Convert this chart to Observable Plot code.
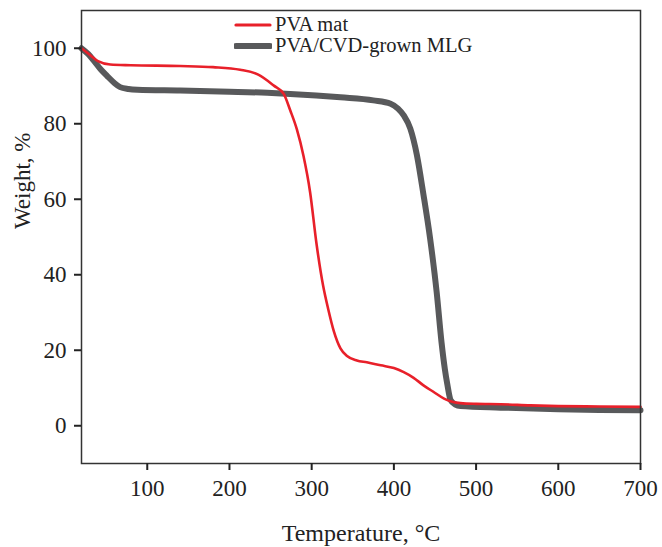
<!DOCTYPE html>
<html>
<head>
<meta charset="utf-8">
<script src="https://cdn.jsdelivr.net/npm/d3@7"></script>
<script src="https://cdn.jsdelivr.net/npm/@observablehq/plot@0.6"></script>
<style>
  html, body { margin: 0; padding: 0; background: #fff; }
  #wrap { position: relative; width: 662px; height: 547px; font-family: "Liberation Serif", "DejaVu Serif", serif; }
  #legend { position: absolute; left: 234px; top: 14px; font-size: 20.5px; color: #222; line-height: 21px; }
  #legend .row { display: flex; align-items: center; height: 21px; white-space: nowrap; }
  #legend svg { margin-right: 3px; }
</style>
</head>
<body>
<div id="wrap"><div id="chart"></div><div id="legend"></div></div>
<script>
// Temperature (°C) and weight (%)
const pvaTemp   = [20, 30, 40, 55, 80, 140, 180, 213, 235, 254, 266, 274, 282, 290, 298, 306, 314, 320, 327, 335, 343, 355, 367, 384, 400, 412, 424, 436, 448, 461, 472, 481, 500, 530, 566, 600, 650, 700];
const pvaWeight = [100, 98.3, 96.6, 95.7, 95.5, 95.3, 95.0, 94.3, 93.0, 90.1, 87.9, 83.5, 78.5, 71.5, 62, 48, 37, 31, 25, 20.5, 18.5, 17.3, 16.8, 16.0, 15.3, 14.2, 12.7, 10.7, 9.0, 7.2, 6.3, 6.0, 5.8, 5.7, 5.4, 5.2, 5.1, 5.0];

const mlgTemp   = [20, 28, 35, 43, 51, 60, 67, 77, 88, 140, 200, 246, 274, 335, 375, 396, 405, 412, 420, 428, 436, 444, 452, 458, 462, 465, 469, 475, 481, 530, 600, 650, 700];
const mlgWeight = [100, 98.5, 96.7, 94.5, 92.7, 90.8, 89.7, 89.2, 89.0, 88.8, 88.5, 88.2, 87.9, 87.0, 86.2, 85.3, 84.0, 82.2, 78.7, 71.7, 61.2, 49.7, 35.5, 22, 15, 11, 6.8, 5.6, 5.2, 4.8, 4.4, 4.2, 4.1];

const seriesNames = ["PVA mat", "PVA/CVD-grown MLG"];
const seriesColors = ["#e8202a", "#58595b"];
const seriesWidths = [2.6, 6];

const xTicks = [100, 200, 300, 400, 500, 600, 700];
const yTicks = [0, 20, 40, 60, 80, 100];
const xLabel = "Temperature, °C";
const yLabel = "Weight, %";

const pva = pvaTemp.map((t, i) => ({t, w: pvaWeight[i]}));
const mlg = mlgTemp.map((t, i) => ({t, w: mlgWeight[i]}));

const chart = Plot.plot({
  width: 662,
  height: 547,
  marginLeft: 81,
  marginRight: 22,
  marginTop: 10,
  marginBottom: 84,
  style: {fontFamily: "Liberation Serif, DejaVu Serif, serif", fontSize: "23px", color: "#222", background: "#fff"},
  x: {domain: [20, 700]},
  y: {domain: [-10, 110]},
  marks: [
    Plot.line(mlg, {x: "t", y: "w", stroke: seriesColors[1], strokeWidth: seriesWidths[1], curve: "monotone-x"}),
    Plot.line(pva, {x: "t", y: "w", stroke: seriesColors[0], strokeWidth: seriesWidths[0], curve: "monotone-x"}),
    Plot.frame({stroke: "#333", strokeWidth: 1.5}),
    Plot.axisX({ticks: xTicks, tickSize: 7, tickPadding: 9, tickFormat: d => String(d), stroke: "#222", strokeWidth: 2, fontSize: 23, label: null}),
    Plot.axisY({ticks: yTicks, tickSize: 7, tickPadding: 8, tickFormat: d => String(d), stroke: "#222", strokeWidth: 2, fontSize: 23, label: null}),
    Plot.text([xLabel], {frameAnchor: "bottom", text: d => d, dy: 70, lineAnchor: "middle", fontSize: 24, fill: "#222"}),
    Plot.text([yLabel], {frameAnchor: "left", text: d => d, dx: -59, dy: -8, rotate: -90, lineAnchor: "middle", fontSize: 23, fill: "#222"})
  ]
});
document.getElementById("chart").appendChild(chart);

const legend = document.getElementById("legend");
seriesNames.forEach((name, i) => {
  const row = document.createElement("div");
  row.className = "row";
  row.innerHTML = `<svg width="38" height="10"><line x1="2" x2="36" y1="5" y2="5" stroke="${seriesColors[i]}" stroke-width="${seriesWidths[i] + (i === 0 ? 0.6 : 0)}" stroke-linecap="round"/></svg><span>${name}</span>`;
  legend.appendChild(row);
});
</script>
</body>
</html>
